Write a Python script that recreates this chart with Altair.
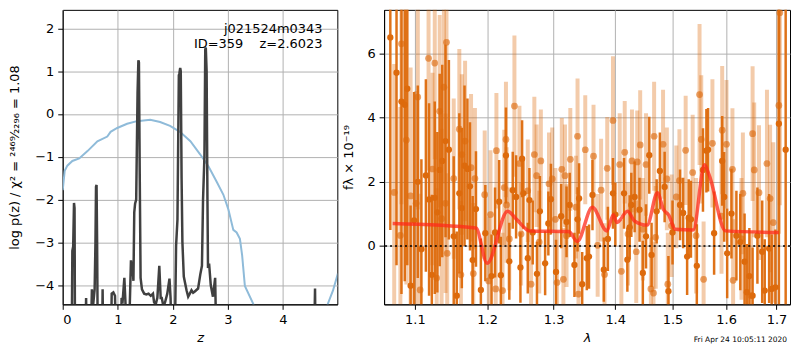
import altair as alt
import pandas as pd

# ---------------- left panel: redshift fit ----------------
pz_z = [0.0, 0.16, 0.175, 0.19, 0.205, 0.215, 0.225, 0.40, 0.425, 0.44, 0.50, 0.53, 0.55, 0.58,
        0.595, 0.605, 0.615, 0.625, 0.64, 0.71, 0.725, 0.74, 0.87, 0.89, 0.92, 0.95, 0.98, 1.05,
        1.07, 1.09, 1.12, 1.14, 1.18, 1.22, 1.24, 1.255, 1.265, 1.285, 1.30, 1.315, 1.335, 1.36,
        1.375, 1.385, 1.40, 1.415, 1.44, 1.48, 1.52, 1.56, 1.60, 1.64, 1.66, 1.69, 1.72, 1.755,
        1.78, 1.80, 1.83, 1.86, 1.90, 1.94, 1.96, 1.99, 2.03, 2.06, 2.085, 2.11, 2.12, 2.135,
        2.145, 2.16, 2.175, 2.20, 2.25, 2.28, 2.31, 2.34, 2.37, 2.40, 2.46, 2.50, 2.53, 2.55,
        2.575, 2.59, 2.60, 2.615, 2.63, 2.64, 2.66, 2.69, 2.73, 2.77, 2.80, 4.56, 4.585, 4.60, 4.99]
pz_logp = [-6, -6, -3.2, -3.1, -2.08, -2.2, -6, -6, -4.3, -6, -6, -4.1, -4.5, -4.1,
           -3.0, -1.7, -1.66, -3.0, -6, -6, -4.1, -6, -6, -4.2, -4.17, -4.25, -6, -6,
           -4.3, -4.35, -3.83, -4.4, -6, -4.4, -3.42, -3.6, -3.5, -3.9, -2.3, -2.1, -2.0, 0.5,
           1.25, 1.2, -1.5, -3.83, -4.1, -4.2, -4.22, -4.2, -4.25, -4.2, -4.4, -4.45, -4.3, -3.55,
           -4.3, -4.3, -4.5, -4.4, -4.2, -3.85, -4.3, -6, -6, -3.08, -2.47, 0.9, 0.95, 1.07,
           1.0, -1.5, -3.0, -3.8, -4.12, -4.27, -4.2, -4.12, -4.18, -4.15, -4.08, -3.75, -3.55, -2.0,
           -1.0, 1.5, 1.55, 1.0, -2.0, -3.6, -3.5, -4.0, -4.27, -3.83, -6, -6, -4.08, -6, -6]

chi_z = [0.0, 0.036, 0.084, 0.175, 0.30, 0.45, 0.63, 0.81, 0.87, 0.99, 1.17, 1.35, 1.59, 1.77,
         1.95, 2.13, 2.32, 2.50, 2.65, 2.80, 2.92, 3.01, 3.10, 3.16, 3.22, 3.26, 3.31, 3.46,
         3.60, 4.70, 4.82, 4.91, 5.0]
chi_val = [-1.78, -1.33, -1.21, -1.10, -1.04, -0.87, -0.64, -0.53, -0.42, -0.33, -0.23, -0.17,
           -0.14, -0.19, -0.28, -0.42, -0.64, -0.95, -1.23, -1.59, -1.89, -2.23, -2.71, -2.77,
           -2.92, -3.30, -4.02, -4.43, -5.0, -5.0, -4.43, -4.13, -3.73]

annot_lines = ["j021524m0343", "ID=359\u00a0\u00a0\u00a0\u00a0z=2.6023"]
z_ticks = [0, 1, 2, 3, 4]
logp_ticks = [-4, -3, -2, -1, 0, 1, 2]

# ---------------- right panel: spectrum ----------------
dark_wave = [1.068, 1.076, 1.0824, 1.0867, 1.090, 1.0944, 1.099, 1.1039, 1.1087, 1.1147, 1.119,
             1.1227, 1.1267, 1.1302, 1.1334, 1.1369, 1.1414, 1.146, 1.1527, 1.1569, 1.1605, 1.164,
             1.1678, 1.1719, 1.1755, 1.1793, 1.184, 1.191, 1.1974, 1.2064, 1.2115, 1.2175, 1.22,
             1.2275, 1.2325, 1.2376, 1.2426, 1.2491, 1.2516, 1.2536, 1.2602, 1.2627, 1.2677,
             1.2742, 1.2787, 1.2868, 1.2918, 1.2958, 1.3038, 1.3119, 1.3204, 1.3254, 1.333, 1.338,
             1.3405, 1.3455, 1.353, 1.3566, 1.3623, 1.381, 1.3878, 1.3963, 1.4003, 1.415, 1.4207,
             1.4247, 1.4275, 1.4332, 1.4417, 1.4474, 1.453, 1.4587, 1.4627, 1.4717, 1.4774,
             1.4859, 1.4927, 1.5001, 1.5137, 1.5194, 1.5267, 1.5296, 1.5337, 1.5446, 1.5561,
             1.5625, 1.5657, 1.5771, 1.5925, 1.5963, 1.6021, 1.6104, 1.62, 1.6276, 1.636, 1.6404,
             1.6455, 1.6519, 1.6615, 1.6711, 1.6762, 1.6851, 1.6903, 1.6979, 1.705, 1.719]
dark_flux = [6.5, 5.4, 4.5, 4.4, 4.9, -1.24, 0.8, 2.0, -0.1, 2.2, 1.45,
             -0.9, 1.5, 1.05, 2.37, 2.65, 3.27, 3.0, 0.3, -1.55, 1.64, 1.18,
             2.5, 2.4, 1.86, -0.44, 1.15, -1.37, 0.4, -0.94, 0.42, 1.38, -0.91,
             2.82, -0.48, 1.74, 1.53, -0.67, 2.72, 1.64, -0.38, 1.43, 0.42,
             -0.87, 1.08, -0.54, 0.7, 1.46, -0.81, 0.93, 0.75, 1.28, -0.59, 0.83,
             1.48, -1.19, -0.38, -0.33, 1.59, -0.74, 0.22, 1.64, 0.98, 1.64, -0.43,
             0.58, 1.28, 1.53, 1.13, -0.84, 0.3, 2.83, -0.28, 1.08, 2.34,
             1.84, -1.41, 0.42, 1.28, 1.03, -0.33, 0.88, 0.83, -0.62, 2.37,
             2.97, 3.0, 0.4, 2.65, 1.53, -0.23, 1.01, 0.32, 0.12, -0.49, -1.44,
             -0.94, -1.55, 0.32, -0.18, -1.39, -0.08, -1.34, -1.29, 3.81, 3.0]
dark_err = [6, 6, 6, 5.5, 5.5, 2.5, 4, 3, 2.8, 3, 3,
            2.5, 3, 2.5, 3, 3, 3, 2.8, 2.5, 2, 2.5, 2.5,
            2.5, 2.2, 2, 2, 1.8, 1.6, 1.5, 1.3, 1.4, 1.3, 1.2,
            1.5, 1.2, 1.2, 1.3, 1.1, 1.2, 1.1, 1.1, 1.0, 1.0,
            1.0, 1.1, 1.0, 1.0, 1.1, 1.0, 1.0, 1.1, 1.0, 1.0, 1.0,
            1.1, 1.0, 1.0, 1.0, 1.1, 1.0, 1.0, 1.1, 1.0, 1.1, 1.0,
            1.0, 1.0, 1.1, 1.0, 1.0, 1.0, 1.2, 1.0, 1.0, 1.2,
            1.1, 1.1, 1.0, 1.1, 1.1, 1.2, 1.2, 1.2, 1.3, 1.3,
            1.3, 1.3, 1.3, 1.4, 1.4, 1.4, 1.4, 1.4, 1.5, 1.5, 1.5,
            1.5, 1.5, 1.5, 1.6, 1.6, 1.7, 1.7, 1.8, 9, 12]

light_wave = [1.073, 1.081, 1.0824, 1.0888, 1.0944, 1.1017, 1.1039, 1.107, 1.1183, 1.1236, 1.1267,
              1.1293, 1.1334, 1.136, 1.1392, 1.1414, 1.1427, 1.1437, 1.1527, 1.1605, 1.1627,
              1.164, 1.1686, 1.177, 1.1802, 1.1825, 1.1965, 1.2024, 1.2049, 1.2125, 1.2135,
              1.2225, 1.225, 1.2275, 1.2285, 1.2325, 1.2401, 1.2476, 1.2501, 1.2602, 1.2652,
              1.2702, 1.2737, 1.2777, 1.2802, 1.2928, 1.2978, 1.3028, 1.3053, 1.3129, 1.3154,
              1.3179, 1.3204, 1.3264, 1.3354, 1.338, 1.3395, 1.3505, 1.364, 1.3708, 1.3765,
              1.3822, 1.3867, 1.3963, 1.4077, 1.4105, 1.4162, 1.4218, 1.4286, 1.436, 1.4377,
              1.4428, 1.4474, 1.453, 1.4615, 1.4661, 1.4672, 1.47, 1.4831, 1.4899, 1.4916,
              1.4984, 1.5069, 1.5126, 1.524, 1.5369, 1.5433, 1.5497, 1.5529, 1.5573, 1.5739,
              1.5912, 1.5925, 1.6008, 1.6123, 1.6136, 1.630, 1.6327, 1.6487, 1.6519, 1.6551,
              1.6647, 1.6807, 1.6871, 1.6935, 1.705, 1.707]
light_flux = [1.67, 0.33, 6.3, 3.3, 1.56, 1.33, 4.64, -1.37, 5.85, 2.4, 5.7,
              -1.0, 4.2, 0.85, 4.95, 1.33, 6.35, -0.23, 2.1, 3.64, -0.9,
              2.85, 3.27, 2.44, -0.86, 2.1, 1.6, -1.09, 0.98, -1.34, 2.97,
              -1.39, 1.82, 3.32, 1.28, 0.22, 4.36, 2.57, 0.37, 1.72, -1.19,
              2.85, 2.19, 0.12, 2.65, 1.94, 2.09, 0.83, -1.14, 2.39, -1.04,
              2.19, 0.32, 2.7, 1.21, 3.42, -1.5, 3.0, 2.8, 0.02, 1.74,
              -0.89, 2.42, 3.91, 2.54, -0.79, 2.92, 0.37, 2.65, -0.18, 2.62,
              3.15, 0.52, 2.54, -1.34, -1.47, 3.42, 0.27, 3.17, 2.09, -1.19,
              0.63, 1.53, 2.04, 2.98, 2.29, 0.32, 4.72, 3.32, -1.04, 3.2,
              0.93, 3.61, 3.17, 2.39, -1.07, 0.22, 1.64, -1.55, 3.5, 2.37,
              1.66, 2.57, 1.48, 0.73, 4.38, 7.27]
light_err = [4, 4, 5, 4.5, 4, 3.5, 3.5, 3, 3.5, 3, 3,
             2.8, 3, 2.8, 3, 2.8, 3, 2.5, 2.5, 2.5, 2.3,
             2.5, 2.5, 2.3, 2.2, 2.2, 2, 2, 2, 1.8, 1.8,
             1.8, 1.8, 1.8, 1.8, 1.6, 2.2, 1.8, 1.6, 1.6, 1.6,
             1.8, 1.6, 1.6, 1.6, 1.6, 1.6, 1.6, 1.6, 1.6, 1.6,
             1.6, 1.6, 1.6, 1.6, 1.8, 1.6, 1.7, 1.6, 1.6, 1.6,
             1.6, 1.6, 2.0, 1.6, 1.6, 1.6, 1.6, 1.6, 1.6, 1.6,
             1.7, 1.6, 1.6, 1.6, 1.6, 1.7, 1.6, 1.7, 1.6, 1.6,
             1.6, 1.6, 1.6, 1.7, 1.8, 1.8, 2.2, 2.0, 1.8, 2.0,
             1.8, 2.0, 2.0, 1.9, 1.9, 1.9, 1.9, 2.0, 2.1, 2.1,
             2.1, 2.3, 2.3, 2.5, 4, 6]

model_wave = [1.071, 1.184, 1.2, 1.230, 1.2436, 1.263, 1.324, 1.3375, 1.362, 1.386, 1.397, 1.403,
              1.421, 1.433, 1.455, 1.473, 1.484, 1.493, 1.505, 1.538, 1.559, 1.568, 1.599, 1.705]
model_flux = [0.70, 0.56, -0.54, 1.08, 0.82, 0.47, 0.45, 0.14, 1.21, 0.47, 0.97, 0.73,
              1.08, 0.78, 0.65, 1.66, 1.13, 0.97, 0.52, 0.50, 2.53, 2.2, 0.47, 0.42]

wave_ticks = [1.1, 1.2, 1.3, 1.4, 1.5, 1.6, 1.7]
flux_ticks = [0, 2, 4, 6]
timestamp = "Fri Apr 24 10:05:11 2020"

FONT = "DejaVu Sans"
W1, W2, H = 276, 408, 296
ORANGE = "#dd6a0c"
MINUS = "replace(datum.label, '-', '\u2212')"

# ---- left chart ----
xz = alt.X("z:Q", scale=alt.Scale(domain=[0, 4.99], nice=False, zero=False),
           axis=alt.Axis(values=z_ticks, format="d", title="z", titleFontStyle="italic",
                         titlePadding=5))
yv = alt.Y("v:Q", scale=alt.Scale(domain=[-4.45, 2.43], nice=False, zero=False),
           axis=alt.Axis(values=logp_ticks, format="d", labelExpr=MINUS, titlePadding=13,
                         title="log p(z) / \u03c7\u00b2 = \u00b2\u2074\u2076\u2079\u2044\u2082\u2082\u2089\u2086 = 1.08"))

chi_line = alt.Chart(pd.DataFrame({"z": chi_z, "v": chi_val})).mark_line(
    clip=True, color="#8fbbd9", strokeWidth=2).encode(x=xz, y=yv)
pz_line = alt.Chart(pd.DataFrame({"z": pz_z, "v": pz_logp})).mark_line(
    clip=True, color="#404040", strokeWidth=2.5).encode(x=xz, y=yv)
t1 = alt.Chart(pd.DataFrame({"t": [annot_lines[0]]})).mark_text(
    align="right", baseline="middle", font=FONT, fontSize=13, color="black").encode(
    text="t:N", x=alt.value(W1 - 15), y=alt.value(19))
t2 = alt.Chart(pd.DataFrame({"t": [annot_lines[1]]})).mark_text(
    align="right", baseline="middle", font=FONT, fontSize=13, color="black").encode(
    text="t:N", x=alt.value(W1 - 15), y=alt.value(34))
left = alt.layer(chi_line, pz_line, t1, t2).properties(width=W1, height=H)

# ---- right chart ----
xw = alt.X("w:Q", scale=alt.Scale(type="log", domain=[1.06, 1.728], nice=False, zero=False),
           axis=alt.Axis(values=wave_ticks, format=".1f", title="\u03bb", titleFontStyle="italic",
                         titlePadding=5))
yf = alt.Y("f:Q", scale=alt.Scale(domain=[-1.82, 7.36], nice=False, zero=False),
           axis=alt.Axis(values=flux_ticks, format="d", titlePadding=11,
                         title="f\u03bb \u00d7 10\u207b\u00b9\u2079"))

dark_df = pd.DataFrame({"w": dark_wave, "f": dark_flux, "e": dark_err})
light_df = pd.DataFrame({"w": light_wave, "f": light_flux, "e": light_err})


def bars(df, width, opacity):
    return alt.Chart(df).transform_calculate(
        lo="datum.f - datum.e", hi="datum.f + datum.e").mark_rule(
        clip=True, color=ORANGE, strokeWidth=width, opacity=opacity).encode(
        x=xw, y=alt.Y("lo:Q", scale=alt.Scale(domain=[-1.82, 7.36], nice=False, zero=False)),
        y2="hi:Q")


def pts(df, size, opacity):
    return alt.Chart(df).mark_circle(clip=True, color=ORANGE, size=size, opacity=opacity).encode(
        x=xw, y=yf)


model = alt.Chart(pd.DataFrame({"w": model_wave, "f": model_flux})).mark_line(
    clip=True, color="#ff2a1a", strokeWidth=3.5, opacity=0.75, interpolate="monotone").encode(
    x=xw, y=yf)
zero = alt.Chart(pd.DataFrame({"f": [0]})).mark_rule(
    color="black", strokeDash=[2, 3], strokeWidth=1.5).encode(y=yf)
stamp = alt.Chart(pd.DataFrame({"t": [timestamp]})).mark_text(
    align="right", baseline="middle", font=FONT, fontSize=7.5, color="black").encode(
    text="t:N", x=alt.value(W2 - 3), y=alt.value(H + 36))

right = alt.layer(
    pts(light_df, 45, 0.38).encode(y=yf),
    bars(light_df, 4, 0.35),
    pts(light_df, 45, 0.38),
    bars(dark_df, 2.5, 0.95),
    pts(dark_df, 40, 1.0),
    model, zero, stamp
).properties(width=W2, height=H)

chart = alt.hconcat(left, right, spacing=4).properties(padding=0).configure_view(
    stroke="black", strokeWidth=1
).configure_axis(
    labelFont=FONT, titleFont=FONT, labelFontSize=13, titleFontSize=13,
    titleFontWeight="normal", labelColor="black", titleColor="black",
    gridColor="#b0b0b0", gridWidth=1, domainColor="black", tickColor="black",
    tickSize=5, labelPadding=4
)

chart.save("out.html", embed_options={"renderer": "svg", "actions": False})
